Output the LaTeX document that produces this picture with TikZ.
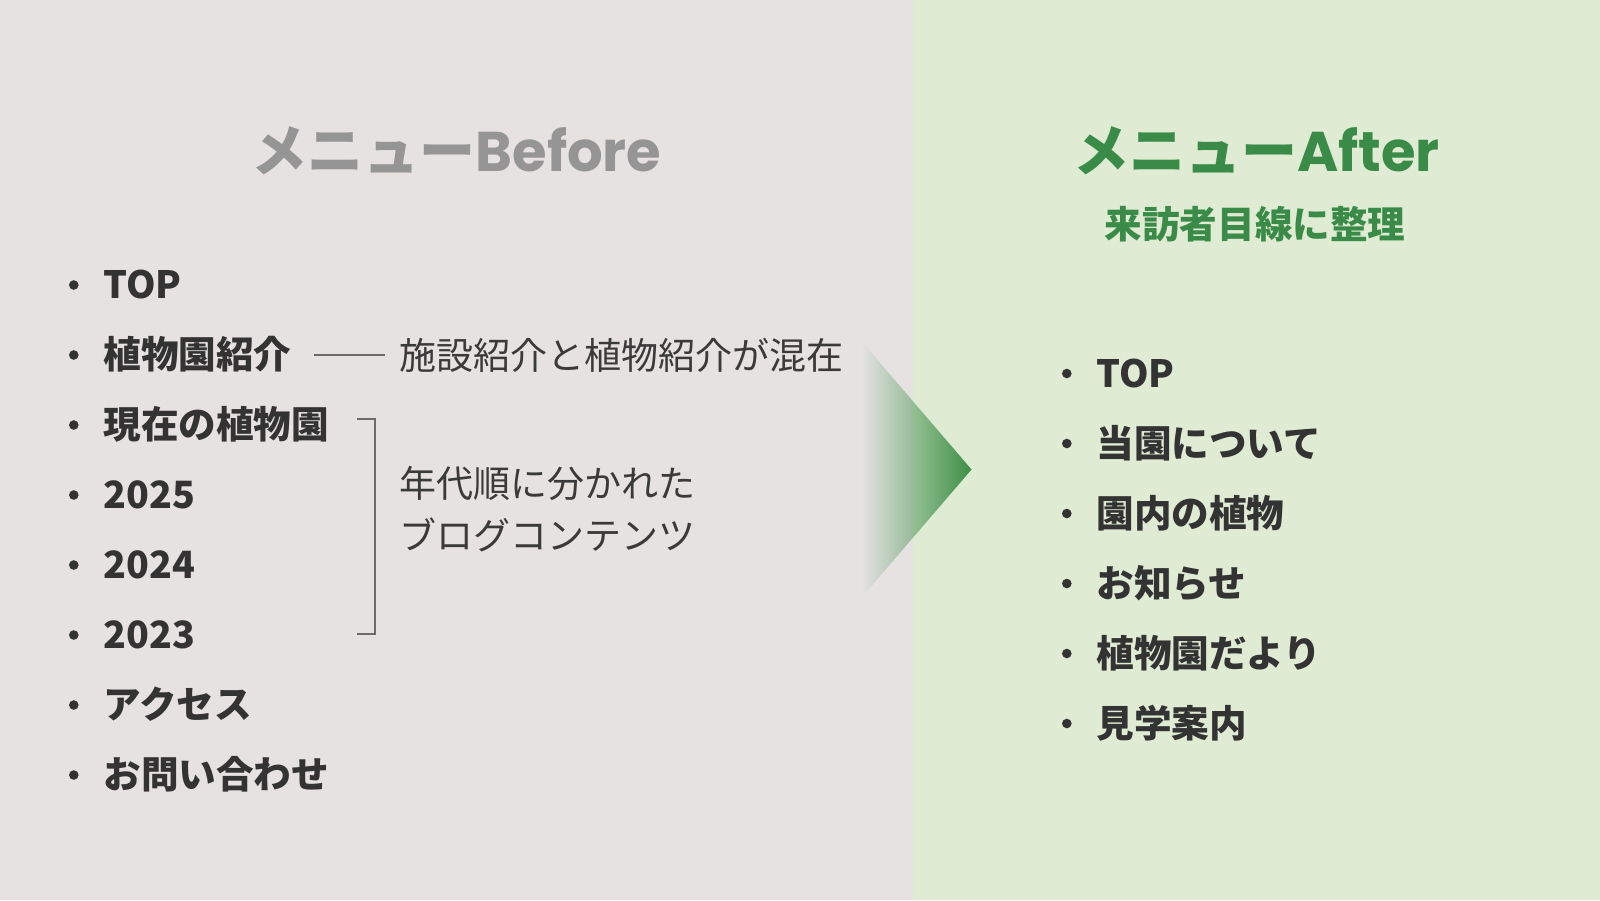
\documentclass[tikz,border=0pt]{standalone}
\usepackage{fontspec}
\setmainfont{Noto Sans CJK JP}
\newfontfamily\titlefont{Poppins}
\usepackage{tikz}
\usetikzlibrary{positioning,fadings}
\definecolor{leftbg}{HTML}{E5E2E1}
\definecolor{rightbg}{HTML}{E0EBD4}
\definecolor{titlegray}{HTML}{959595}
\definecolor{titlegreen}{HTML}{3A8B48}
\definecolor{itemtext}{HTML}{333333}
\definecolor{notegray}{HTML}{3A3A3A}
\definecolor{linegray}{HTML}{6B6B6B}
\definecolor{arrowgreen}{HTML}{3D8F47}
\tikzfading[name=arrowfade, left color=transparent!100, middle color=transparent!70, right color=transparent!0]
\tikzset{
  bulletdot/.style={circle, fill=itemtext, inner sep=0pt, minimum size=4.8pt, xshift=-12pt},
  menuitem/.style={anchor=west, inner sep=0pt, text=itemtext, font=\fontsize{18.8pt}{22pt}\selectfont\bfseries, text height=16.2pt, text depth=2.5pt, label={[bulletdot]left:{}}},
  bigtitle/.style={inner sep=0pt, font=\fontsize{28pt}{32pt}\selectfont\bfseries},
  subtitle/.style={inner sep=0pt, text=titlegreen, font=\fontsize{18.8pt}{22pt}\selectfont\bfseries},
  notetext/.style={anchor=west, inner sep=0pt, text=notegray, font=\fontsize{18.5pt}{26pt}\selectfont},
  noteline/.style={draw=linegray, line width=0.7pt},
  bracketline/.style={draw=linegray, line width=1pt}
}

\begin{document}
\begin{tikzpicture}[x=0.5pt, y=-0.5pt]
  \useasboundingbox (0,0) rectangle (1600,900);
  \fill[leftbg] (0,0) rectangle (913,900);
  \fill[rightbg] (913,0) rectangle (1600,900);

  % arrow between the panels
  \fill[arrowgreen, path fading=arrowfade] (862,342) -- (971.5,469.5) -- (862,597) -- cycle;

  % before
  \node[bigtitle, text=titlegray] (tb) at (456.5,151) {メニュー{\titlefont Before}};
  \node[menuitem] (b1) at (103,285) {TOP};
  \node[menuitem] (b2) at (103,355) {植物園紹介};
  \node[menuitem] (b3) at (103,425) {現在の植物園};
  \node[menuitem] (b4) at (103,495) {2025};
  \node[menuitem] (b5) at (103,565) {2024};
  \node[menuitem] (b6) at (103,635) {2023};
  \node[menuitem] (b7) at (103,705) {アクセス};
  \node[menuitem] (b8) at (103,775) {お問い合わせ};

  \node[notetext] (n1) at (399,355) {施設紹介と植物紹介が混在};
  \node[notetext, align=left] (n2) at (399,509) {年代順に分かれた\\ブログコンテンツ};
  \draw[noteline] ([xshift=11pt]b2.east) -- ([xshift=-7pt]n1.west);

  \coordinate (k1) at (357,419);
  \coordinate (k2) at (374.5,419);
  \coordinate (k3) at (374.5,634);
  \coordinate (k4) at (357,634);
  \draw[bracketline] (k1) -- (k2) -- (k3) -- (k4);

  % after
  \node[bigtitle, text=titlegreen] (ta) at (1256.5,151) {メニュー{\titlefont After}};
  \node[subtitle] (ts) at (1255,224.5) {来訪者目線に整理};
  \node[menuitem] (a1) at (1096,373.5) {TOP};
  \node[menuitem] (a2) at (1096,443.5) {当園について};
  \node[menuitem] (a3) at (1096,513.5) {園内の植物};
  \node[menuitem] (a4) at (1096,583.5) {お知らせ};
  \node[menuitem] (a5) at (1096,653.5) {植物園だより};
  \node[menuitem] (a6) at (1096,723.5) {見学案内};
\end{tikzpicture}
\end{document}
